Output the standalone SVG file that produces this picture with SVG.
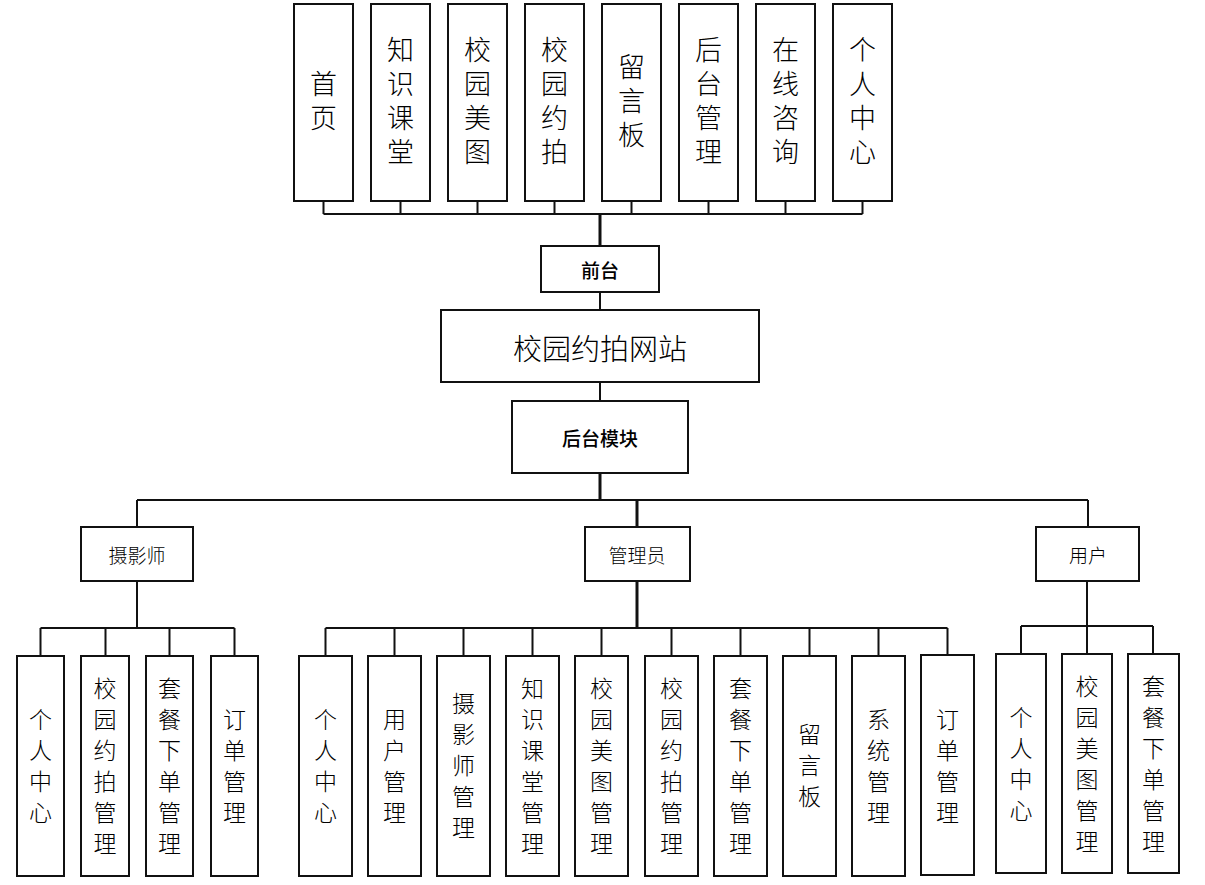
<svg xmlns="http://www.w3.org/2000/svg" width="1205" height="885" viewBox="0 0 1205 885">
<style>
.box{fill:#fff;stroke:#111;stroke-width:2}
.ln{fill:none;stroke:#111;stroke-width:2}
.tk{fill:none;stroke:#111;stroke-width:3}
text{font-family:"Noto Sans CJK SC","Noto Sans CJK JP",sans-serif;fill:#000;text-anchor:middle;dominant-baseline:central}
.v28{font-size:27px;font-weight:300;writing-mode:vertical-rl;letter-spacing:7px}
.v24{font-size:23px;font-weight:300;writing-mode:vertical-rl;letter-spacing:8px}
.t20{font-size:19px;font-weight:300}
.b20{font-size:19px;font-weight:500}
.t30{font-size:29px;font-weight:300}
</style>
<rect width="1205" height="885" fill="#fff"/>
<g id="connectors">
<path class="ln" d="M323.5 201V214M400.5 201V214M477.5 201V214M554.5 201V214M631.5 201V214M708.5 201V214M785.5 201V214M862.5 201V214M323.5 214H862.5"/>
<path class="tk" d="M600 214V246"/>
<path class="ln" d="M600 292V310M600 382V401"/>
<path class="tk" d="M600 473V500"/>
<path class="ln" d="M137 500H1088M137 500V527M1088 500V527"/>
<path class="tk" d="M637 500V527"/>
<path class="ln" d="M137 581V628M40.5 628H234.5M40.5 628V656M105.5 628V656M169.5 628V656M234.5 628V656"/>
<path class="tk" d="M637 581V628"/>
<path class="ln" d="M325.5 628H947.5M325.5 628V656M394.5 628V656M463.5 628V656M532.5 628V656M601.5 628V656M671.5 628V656M740.5 628V656M809.5 628V656M878.5 628V656M947.5 628V656"/>
<path class="ln" d="M1087 581V654M1021 626H1153M1021 626V654M1153 626V654"/>
</g>
<g id="n-shouye"><rect class="box" x="294" y="4" width="59" height="197"/><text class="v28" x="323.5" y="104.5">首页</text></g>
<g id="n-zhishi"><rect class="box" x="371" y="4" width="59" height="197"/><text class="v28" x="400.5" y="104.5">知识课堂</text></g>
<g id="n-meitu"><rect class="box" x="448" y="4" width="59" height="197"/><text class="v28" x="477.5" y="104.5">校园美图</text></g>
<g id="n-yuepai"><rect class="box" x="525" y="4" width="59" height="197"/><text class="v28" x="554.5" y="104.5">校园约拍</text></g>
<g id="n-liuyan"><rect class="box" x="602" y="4" width="59" height="197"/><text class="v28" x="631.5" y="104.5">留言板</text></g>
<g id="n-houtai"><rect class="box" x="679" y="4" width="59" height="197"/><text class="v28" x="708.5" y="104.5">后台管理</text></g>
<g id="n-zixun"><rect class="box" x="756" y="4" width="59" height="197"/><text class="v28" x="785.5" y="104.5">在线咨询</text></g>
<g id="n-geren"><rect class="box" x="833" y="4" width="59" height="197"/><text class="v28" x="862.5" y="104.5">个人中心</text></g>
<g id="n-qiantai"><rect class="box" x="541" y="246" width="118" height="46"/><text class="b20" x="600" y="269">前台</text></g>
<g id="n-site"><rect class="box" x="441" y="310" width="318" height="72"/><text class="t30" x="600" y="347">校园约拍网站</text></g>
<g id="n-backend"><rect class="box" x="512" y="401" width="176" height="72"/><text class="b20" x="600" y="437">后台模块</text></g>
<g id="n-photographer"><rect class="box" x="81" y="527" width="112" height="54"/><text class="t20" x="137" y="554">摄影师</text></g>
<g id="n-admin"><rect class="box" x="585" y="527" width="105" height="54"/><text class="t20" x="637" y="554">管理员</text></g>
<g id="n-user"><rect class="box" x="1036" y="527" width="103" height="54"/><text class="t20" x="1088" y="554">用户</text></g>
<g id="p-1"><rect class="box" x="17" y="656" width="47" height="220"/><text class="v24" x="40.5" y="770">个人中心</text></g>
<g id="p-2"><rect class="box" x="81" y="656" width="48" height="220"/><text class="v24" x="105" y="770">校园约拍管理</text></g>
<g id="p-3"><rect class="box" x="146" y="656" width="47" height="220"/><text class="v24" x="169.5" y="770">套餐下单管理</text></g>
<g id="p-4"><rect class="box" x="211" y="656" width="47" height="220"/><text class="v24" x="234.5" y="770">订单管理</text></g>
<g id="a-1"><rect class="box" x="299" y="656" width="53" height="220"/><text class="v24" x="325.5" y="770">个人中心</text></g>
<g id="a-2"><rect class="box" x="368" y="656" width="53" height="220"/><text class="v24" x="394.5" y="770">用户管理</text></g>
<g id="a-3"><rect class="box" x="437" y="656" width="53" height="220"/><text class="v24" x="463.5" y="769">摄影师管理</text></g>
<g id="a-4"><rect class="box" x="506" y="656" width="53" height="220"/><text class="v24" x="532.5" y="770">知识课堂管理</text></g>
<g id="a-5"><rect class="box" x="575" y="656" width="53" height="220"/><text class="v24" x="601.5" y="770">校园美图管理</text></g>
<g id="a-6"><rect class="box" x="645" y="656" width="53" height="220"/><text class="v24" x="671.5" y="770">校园约拍管理</text></g>
<g id="a-7"><rect class="box" x="714" y="656" width="53" height="220"/><text class="v24" x="740.5" y="770">套餐下单管理</text></g>
<g id="a-8"><rect class="box" x="783" y="656" width="53" height="220"/><text class="v24" x="809.5" y="769">留言板</text></g>
<g id="a-9"><rect class="box" x="852" y="656" width="53" height="220"/><text class="v24" x="878.5" y="770">系统管理</text></g>
<g id="a-10"><rect class="box" x="921" y="655" width="53" height="220"/><text class="v24" x="947.5" y="770">订单管理</text></g>
<g id="u-1"><rect class="box" x="996" y="654" width="50" height="219"/><text class="v24" x="1021" y="768">个人中心</text></g>
<g id="u-2"><rect class="box" x="1062" y="654" width="50" height="219"/><text class="v24" x="1087" y="768">校园美图管理</text></g>
<g id="u-3"><rect class="box" x="1128" y="654" width="51" height="219"/><text class="v24" x="1153.5" y="768">套餐下单管理</text></g>
</svg>
